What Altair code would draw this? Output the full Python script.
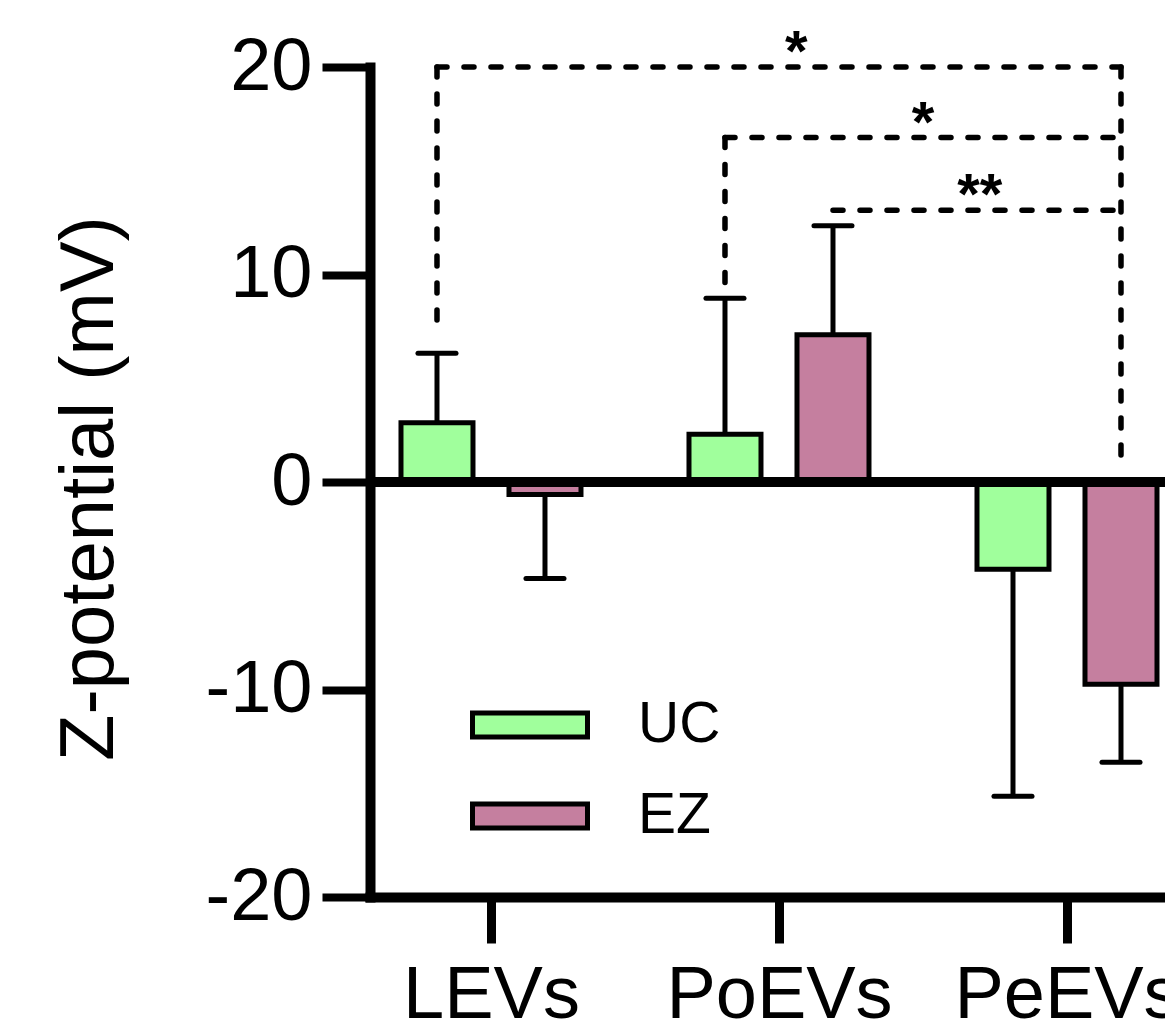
import json
import altair as alt
import pandas as pd

# ---------------- data ----------------
groups = ["LEVs", "PoEVs", "PeEVs"]
series = ["UC", "EZ"]
uc_mean = [2.85, 2.3, -4.2]
uc_err = [3.35, 6.55, 10.95]
ez_mean = [-0.6, 7.1, -9.75]
ez_err = [4.05, 5.25, 3.75]
colors = ["#A0FF9C", "#C57F9F"]

# significance brackets: (group, series) of the left end, level, lower end of left drop
sig_labels = ["*", "*", "**"]
sig_left_group = [0, 1, 1]
sig_left_series = ["UC", "UC", "EZ"]
sig_level = [20.0, 16.6, 13.1]
sig_left_bottom = [7.5, 9.4, None]
sig_right_group = 2
sig_right_series = "EZ"
sig_right_bottom = 1.0
sig_label_shift = [0.06, 0.0, 0.01]

y_ticks = [-20, -10, 0, 10, 20]

# ---------------- layout / style constants ----------------
FONT = "Liberation Sans"
OFFSET = {"UC": -0.1875, "EZ": 0.1875}
HALF_BAR = 0.125
HALF_CAP = 0.066

rows = []
for s, means, errs in (("UC", uc_mean, uc_err), ("EZ", ez_mean, ez_err)):
    for i, g in enumerate(groups):
        m = means[i]
        e = errs[i]
        xc = i + OFFSET[s]
        sign = 1 if m >= 0 else -1
        rows.append(dict(group=g, series=s, mean=m, xc=xc,
                         x1=xc - HALF_BAR, x2=xc + HALF_BAR,
                         tip=m + sign * e, cap1=xc - HALF_CAP, cap2=xc + HALF_CAP))
bars = pd.DataFrame(rows)

right_x = sig_right_group + OFFSET[sig_right_series]
h_rows, v_rows, t_rows = [], [], []
for k in range(len(sig_labels)):
    lx = sig_left_group[k] + OFFSET[sig_left_series[k]]
    h_rows.append(dict(x1=lx, x2=right_x, level=sig_level[k]))
    if sig_left_bottom[k] is not None:
        v_rows.append(dict(x=lx, ya=sig_level[k], yb=sig_left_bottom[k]))
    t_rows.append(dict(x=(lx + right_x) / 2 + sig_label_shift[k], level=sig_level[k], label=sig_labels[k]))
v_rows.append(dict(x=right_x, ya=max(sig_level), yb=sig_right_bottom))
hdf = pd.DataFrame(h_rows)
vdf = pd.DataFrame(v_rows)
tdf = pd.DataFrame(t_rows)

xscale = alt.Scale(domain=[-0.4201, 2.3403], nice=False, zero=False)
yscale = alt.Scale(domain=[-20, 20], nice=False, zero=False)

xaxis = alt.Axis(
    values=list(range(len(groups))),
    labelExpr=json.dumps(groups) + "[datum.value]",
    title="", grid=False, labelFont=FONT, labelFontSize=74, labelColor="black",
    labelPadding=16, labelFlush=False, labelOverlap=False, labelLimit=0,
    tickSize=46, tickWidth=9, tickColor="black",
    domainWidth=10, domainColor="black", domainCap="square",
)
yaxis = alt.Axis(
    values=y_ticks, labelExpr="datum.value", title="Z-potential (mV)", grid=False,
    labelFont=FONT, labelFontSize=74, labelColor="black", labelPadding=10,
    tickSize=48, tickWidth=8, tickColor="black",
    domainWidth=10, domainColor="black", domainCap="square",
    titleFont=FONT, titleFontSize=76, titleFontWeight="normal", titleColor="black",
    titleX=-258, titleY=421, titleAngle=270, titleBaseline="alphabetic", titleAlign="center",
)

legend = alt.Legend(
    title=None, orient="none", legendX=100, legendY=618, direction="vertical",
    symbolType="M-1,-0.2087H1V0.2087H-1Z", symbolSize=13225,
    symbolStrokeColor="black", symbolStrokeWidth=5, symbolOpacity=1,
    labelFont=FONT, labelFontSize=57, labelColor="black", labelOffset=48,
    clipHeight=80, rowPadding=11, padding=0,
)

err_line = alt.Chart(bars).mark_rule(color="black", strokeWidth=5).encode(
    x=alt.X("xc:Q", scale=xscale, axis=xaxis),
    y=alt.Y("mean:Q", scale=yscale, axis=yaxis),
    y2="tip:Q",
)
err_cap = alt.Chart(bars).mark_rule(color="black", strokeWidth=5, strokeCap="round").encode(
    x=alt.X("cap1:Q", scale=xscale, axis=xaxis),
    x2="cap2:Q",
    y=alt.Y("tip:Q", scale=yscale, axis=yaxis),
)
bar_layer = alt.Chart(bars).mark_bar(stroke="black", strokeWidth=5, opacity=1).encode(
    x=alt.X("x1:Q", scale=xscale, axis=xaxis),
    x2="x2:Q",
    y=alt.Y("mean:Q", scale=yscale, axis=yaxis),
    y2=alt.datum(0),
    fill=alt.Fill("series:N", scale=alt.Scale(domain=series, range=colors), legend=legend),
)
zero_line = alt.Chart(bars).mark_rule(color="black", strokeWidth=10).encode(
    y=alt.Y(datum=0, scale=yscale, axis=yaxis),
)
dash = dict(color="black", strokeWidth=5.5, strokeDash=[10, 17], strokeCap="round")
h_layer = alt.Chart(hdf).mark_rule(**dash).encode(
    x=alt.X("x1:Q", scale=xscale, axis=xaxis),
    x2="x2:Q",
    y=alt.Y("level:Q", scale=yscale, axis=yaxis),
)
v_layer = alt.Chart(vdf).mark_rule(**dash).encode(
    x=alt.X("x:Q", scale=xscale, axis=xaxis),
    y=alt.Y("ya:Q", scale=yscale, axis=yaxis),
    y2="yb:Q",
)
t_layer = alt.Chart(tdf).mark_text(font=FONT, fontSize=58, fontWeight="bold", color="black",
                                   baseline="alphabetic", align="center", dy=4).encode(
    x=alt.X("x:Q", scale=xscale, axis=xaxis),
    y=alt.Y("level:Q", scale=yscale, axis=yaxis),
    text="label:N",
)

chart = alt.layer(
    v_layer, h_layer, t_layer, err_line, err_cap, bar_layer, zero_line
).properties(
    width=795, height=830,
    autosize=alt.AutoSizeParams(type="none"),
    padding={"left": 362, "top": 59, "right": 0, "bottom": 128},
).configure_view(stroke=None)

chart.save("out.html", embed_options={"renderer": "svg", "actions": False})
